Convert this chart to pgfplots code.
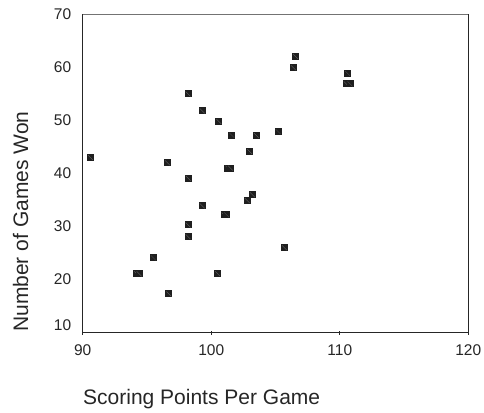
\documentclass[border=0pt]{standalone}
\usepackage{fontspec}
\setmainfont{Liberation Sans}
\usepackage{pgfplots}
\pgfplotsset{compat=1.18}
\pgfdeclareplotmark{dsq}{%
  \pgfpathrectangle{\pgfpoint{-\pgfplotmarksize}{-\pgfplotmarksize}}{\pgfpoint{2\pgfplotmarksize}{2\pgfplotmarksize}}%
  \pgfusepathqfill
  \pgfsetstrokecolor{black!60}%
  \pgfsetlinewidth{0.3pt}%
  \pgfpathmoveto{\pgfpoint{-0.7\pgfplotmarksize}{0.7\pgfplotmarksize}}%
  \pgfpathlineto{\pgfpoint{0.7\pgfplotmarksize}{-0.7\pgfplotmarksize}}%
  \pgfusepathqstroke
}
\begin{document}
\begin{tikzpicture}
\path[use as bounding box] (0,0) rectangle (484pt,412pt);
\begin{axis}[
  at={(82.7pt,79.3pt)}, anchor=south west,
  width=385.6pt, height=318.4pt, scale only axis,
  xmin=90, xmax=120, ymin=10, ymax=70,
  axis x line=bottom, axis y line=left,
  axis line style={black!85, line width=1.3pt, -},
  xtick={90,100,110,120},
  ytick={20,30,40,50,60,70},
  extra y ticks={10},
  extra y tick style={yticklabel style={yshift=8pt}},
  xtick style={black!85, line width=0.9pt},
  major tick length=4pt,
  tick align=center,
  ytick style={draw=none},
  tick label style={font=\fontsize{15.5}{18}\selectfont, text=black!85},
  /pgf/number format/assume math mode=true,
  xticklabel style={yshift=-6pt},
  yticklabel style={xshift=-6pt},
  clip=false,
]
\addplot[only marks, mark=dsq, mark size=3.5pt, mark options={fill=black!88}]
coordinates {
(90.6,43.0)
(98.2,55.0)
(99.3,51.8)
(100.6,49.8)
(101.6,47.2)
(103.5,47.2)
(105.2,47.9)
(103.0,44.1)
(96.6,42.0)
(101.3,41.0)
(101.5,41.0)
(98.2,39.1)
(106.55,62.1)
(106.4,59.9)
(110.6,58.9)
(110.5,56.9)
(110.8,56.9)
(99.3,33.9)
(102.8,34.9)
(103.2,36.0)
(101.0,32.2)
(101.2,32.2)
(98.2,30.3)
(98.2,28.1)
(95.5,24.1)
(94.2,21.1)
(94.4,21.1)
(100.5,21.1)
(96.7,17.3)
(105.7,26.0)
};
\draw[black!55, line width=0.9pt] (rel axis cs:0,1) -- (rel axis cs:1,1);
\draw[black!85, line width=1.3pt] (rel axis cs:1,0) -- (rel axis cs:1,1);
\end{axis}
\node[rotate=90, anchor=base west, inner sep=0pt, font=\fontsize{21}{25}\selectfont, text=black!85] at (28pt,80pt) {Number of Games Won};
\node[anchor=base west, inner sep=0pt, font=\fontsize{21}{25}\selectfont, text=black!85] at (83pt,8pt) {Scoring Points Per Game};
\end{tikzpicture}
\end{document}
